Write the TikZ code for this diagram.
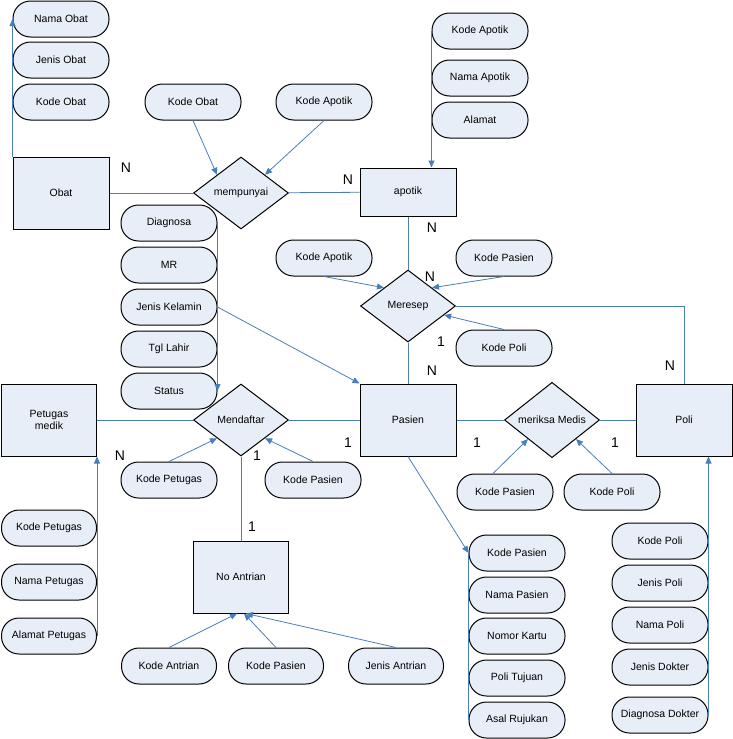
\documentclass[tikz,border=0pt]{standalone}
\usepackage{fontspec}
\setmainfont{Liberation Sans}
\usetikzlibrary{shapes.geometric,arrows.meta}
\definecolor{erfill}{RGB}{232,238,247}
\definecolor{erline}{RGB}{74,126,187}
\tikzset{
	entitas/.style={rectangle, draw=black, line width=1pt, fill=erfill, minimum width=96pt, minimum height=72pt, inner sep=1pt, align=center, font=\fontsize{10.5}{12}\selectfont},
	relasi/.style={diamond, draw=black, line width=1pt, fill=erfill, minimum width=95pt, minimum height=72pt, inner sep=0pt, font=\fontsize{10.5}{12}\selectfont},
	atribut/.style={rectangle, rounded corners=17.5pt, draw=black, line width=1pt, fill=erfill, minimum width=96pt, minimum height=36pt, inner sep=1pt, font=\fontsize{10.5}{12}\selectfont},
	garis/.style={draw=erline, line width=0.8pt},
	panah/.style={garis, -{Triangle[length=7pt,width=6pt]}},
	kardinal/.style={font=\fontsize{14}{16}\selectfont, inner sep=0pt}
}

\begin{document}
\begin{tikzpicture}[x=1pt, y=-1pt]
		%%%%% START %%%%%
		\useasboundingbox (0, 0) rectangle (733, 739);
		
		\node[entitas] (obat) at (61, 193) {Obat};
		\node[entitas, minimum height=48pt] (apotik) at (408, 192) {apotik};
		\node[entitas] (pasien) at (408, 420) {Pasien};
		\node[entitas] (poli) at (684, 420) {Poli};
		\node[entitas, minimum width=95pt] (petugas) at (49, 420) {Petugas\\medik};
		\node[entitas, minimum width=95pt] (antrian) at (241, 577) {No Antrian};
		
		\node[relasi] (mempunyai) at (241, 193) {mempunyai};
		\node[relasi] (meresep) at (408, 306) {Meresep};
		\node[relasi] (mendaftar) at (241, 420) {Mendaftar};
		\node[relasi] (periksa) at (552, 420) {meriksa Medis};
		
		\node[atribut] (namaobat) at (61, 19) {Nama Obat};
		\node[atribut] (jenisobat) at (61, 60) {Jenis Obat};
		\node[atribut] (kodeobat) at (61, 102) {Kode Obat};
		
		\node[atribut] (kodeobat2) at (193, 102) {Kode Obat};
		\node[atribut] (kodeapotik2) at (324, 102) {Kode Apotik};
		
		\node[atribut] (kodeapotik) at (480, 31) {Kode Apotik};
		\node[atribut] (namaapotik) at (480, 78) {Nama Apotik};
		\node[atribut] (alamat) at (480, 120) {Alamat};
		
		\node[atribut] (kodeapotik3) at (324, 258) {Kode Apotik};
		\node[atribut] (kodepasien3) at (504, 258) {Kode Pasien};
		\node[atribut] (kodepoli3) at (504, 348) {Kode Poli};
		
		\node[atribut] (diagnosa) at (169, 223) {Diagnosa};
		\node[atribut] (mr) at (169, 265) {MR};
		\node[atribut] (kelamin) at (169, 307) {Jenis Kelamin};
		\node[atribut] (lahir) at (169, 349) {Tgl Lahir};
		\node[atribut] (status) at (169, 391) {Status};
		
		\node[atribut] (kodepetugas2) at (169, 480) {Kode Petugas};
		\node[atribut] (kodepasien2) at (313, 480) {Kode Pasien};
		
		\node[atribut, minimum width=95pt] (kodepetugas) at (49, 528) {Kode Petugas};
		\node[atribut, minimum width=95pt] (namapetugas) at (49, 582) {Nama Petugas};
		\node[atribut, minimum width=95pt] (alamatpetugas) at (49, 636) {Alamat Petugas};
		
		\node[atribut, minimum width=95pt] (kodeantrian) at (169, 666) {Kode Antrian};
		\node[atribut, minimum width=95pt] (kodepasien4) at (276, 666) {Kode Pasien};
		\node[atribut, minimum width=95pt] (jenisantrian) at (396, 666) {Jenis Antrian};
		
		\node[atribut] (kodepasien5) at (505, 492) {Kode Pasien};
		\node[atribut] (kodepoli5) at (612, 492) {Kode Poli};
		
		\node[atribut] (kodepasien) at (517, 553) {Kode Pasien};
		\node[atribut] (namapasien) at (517, 595) {Nama Pasien};
		\node[atribut] (nomorkartu) at (517, 636) {Nomor Kartu};
		\node[atribut] (politujuan) at (517, 678) {Poli Tujuan};
		\node[atribut] (asalrujukan) at (517, 720) {Asal Rujukan};
		
		\node[atribut] (kodepoli) at (660, 541) {Kode Poli};
		\node[atribut] (jenispoli) at (660, 583) {Jenis Poli};
		\node[atribut] (namapoli) at (660, 625) {Nama Poli};
		\node[atribut] (jenisdokter) at (660, 667) {Jenis Dokter};
		\node[atribut] (diagnosadokter) at (660, 715) {Diagnosa Dokter};
		
		\draw[panah] (obat.north west) -- (namaobat.west);
		\draw[garis] (obat) -- (mempunyai);
		\draw[panah] (kodeobat2.south) -- (mempunyai.north west);
		\draw[panah] (kodeapotik2.south) -- (mempunyai.north east);
		\draw[garis] (mempunyai) -- (apotik);
		\draw[panah] (kodeapotik.west) -- (kodeapotik.west |- apotik.north);
		
		\draw[garis] (apotik) -- (meresep);
		\draw[panah] (kodeapotik3.south) -- (meresep.north west);
		\draw[panah] (kodepasien3.south) -- (meresep.north east);
		\draw[panah] (kodepoli3.north) -- (meresep.-14);
		\draw[garis] (meresep.east) -| (poli.north);
		\draw[garis] (meresep) -- (pasien);
		
		\draw[panah] (diagnosa.east) -- (status.east);
		\draw[panah] (kelamin.east) -- (pasien.north west);
		
		\draw[garis] (petugas) -- (mendaftar);
		\draw[garis] (mendaftar) -- (pasien);
		\draw[panah] (kodepetugas2.north) -- (mendaftar.south west);
		\draw[panah] (kodepasien2.north) -- (mendaftar.south east);
		\draw[panah] (alamatpetugas.east) -- (alamatpetugas.east |- petugas.south);
		\draw[garis] (mendaftar) -- (antrian);
		
		\draw[panah] (kodeantrian.north) -- ([xshift=-4pt]antrian.south);
		\draw[panah] (kodepasien4.north) -- ([xshift=3pt]antrian.south);
		\draw[panah] (jenisantrian.north) -- ([xshift=5pt]antrian.south);
		
		\draw[garis] (pasien) -- (periksa);
		\draw[garis] (periksa) -- (poli);
		\draw[panah] ([xshift=-12pt]kodepasien5.north) -- (periksa.south west);
		\draw[panah] (kodepoli5.north) -- (periksa.south east);
		
		\draw[panah] (pasien.south) -- (kodepasien.west);
		\draw[garis] (kodepasien.west) -- (asalrujukan.west);
		\draw[panah] (diagnosadokter.east) -- (diagnosadokter.east |- poli.south);
		
		\node[kardinal] (k1) at (126, 168) {N};
		\node[kardinal] (k2) at (348, 180) {N};
		\node[kardinal] (k3) at (432, 228) {N};
		\node[kardinal] (k4) at (430, 277) {N};
		\node[kardinal] (k5) at (441, 342) {1};
		\node[kardinal] (k6) at (432, 371) {N};
		\node[kardinal] (k7) at (670, 366) {N};
		\node[kardinal] (k8) at (477, 443) {1};
		\node[kardinal] (k9) at (615, 443) {1};
		\node[kardinal] (k10) at (120, 456) {N};
		\node[kardinal] (k11) at (257, 456) {1};
		\node[kardinal] (k12) at (348, 443) {1};
		\node[kardinal] (k13) at (252, 527) {1};
		
		%%%%% END %%%%%
	\end{tikzpicture}
\end{document}
